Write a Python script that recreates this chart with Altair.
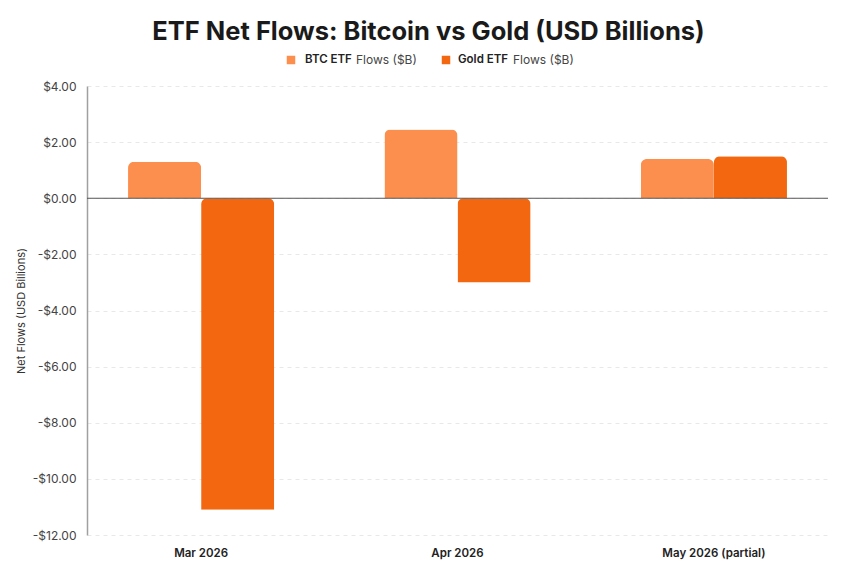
import altair as alt
import pandas as pd

# Monthly ETF net flows, USD billions
months = ["Mar 2026", "Apr 2026", "May 2026 (partial)"]
btc_flows = [1.3, 2.45, 1.4]
gold_flows = [-11.1, -3.0, 1.5]

series = ["BTC ETF Flows ($B)", "Gold ETF Flows ($B)"]
series_bold = ["BTC ETF", "Gold ETF"]
series_rest = ["Flows ($B)", "Flows ($B)"]
colors = ["#FD8F4E", "#F2670F"]

y_ticks = [-12, -10, -8, -6, -4, -2, 0, 2, 4]

rows = []
for m, b, g in zip(months, btc_flows, gold_flows):
    rows.append({"month": m, "series": series[0], "flow": b})
    rows.append({"month": m, "series": series[1], "flow": g})
df = pd.DataFrame(rows)

FONT = "Inter"

x_enc = alt.X(
    "month:N",
    sort=months,
    title=None,
    scale=alt.Scale(paddingInner=0.43, paddingOuter=0.16),
    axis=alt.Axis(
        labelAngle=0, domain=False, ticks=False, grid=False,
        labelFont=FONT, labelFontSize=11.5, labelFontWeight=600,
        labelColor="#222222", labelPadding=12,
    ),
)

y_enc = alt.Y(
    "flow:Q",
    title="Net Flows (USD Billions)",
    scale=alt.Scale(domain=[-12, 4], nice=False, zero=True),
    axis=alt.Axis(
        values=y_ticks,
        labelExpr="datum.value < 0 ? '-$' + format(-datum.value, '.2f') : '$' + format(datum.value, '.2f')",
        grid=True, gridDash=[4, 4], gridColor="#E8E8E8", gridWidth=1,
        domain=True, domainColor="#A0A0A0", domainWidth=1.5,
        ticks=False, labelPadding=11,
        labelFont=FONT, labelFontSize=12, labelColor="#444444",
        titleFont=FONT, titleFontSize=11, titleFontWeight="normal",
        titleColor="#333333", titlePadding=6,
    ),
)

bars = alt.Chart(df).mark_bar(cornerRadiusEnd=6).encode(
    x=x_enc,
    xOffset=alt.XOffset("series:N", sort=series,
                        scale=alt.Scale(paddingInner=0, paddingOuter=0)),
    y=y_enc,
    color=alt.Color("series:N", scale=alt.Scale(domain=series, range=colors), legend=None),
)

zero_line = alt.Chart(pd.DataFrame({"v": [0]})).mark_rule(
    color="#555555", strokeWidth=1
).encode(y="v:Q")

# Legend drawn above the plot: swatch, bold series name, plain suffix
legend_df = pd.DataFrame({
    "series": series,
    "bold": series_bold,
    "rest": series_rest,
})

legend_layers = []
swatch_x = [204, 359]
bold_x = [218, 371]
rest_x = [269, 426]
for i in range(2):
    sub = legend_df.iloc[[i]]
    legend_layers.append(
        alt.Chart(sub).mark_square(size=72, opacity=1, cornerRadius=1).encode(
            x=alt.value(swatch_x[i]), y=alt.value(-26),
            color=alt.Color("series:N", scale=alt.Scale(domain=series, range=colors), legend=None),
        )
    )
    legend_layers.append(
        alt.Chart(sub).mark_text(
            align="left", baseline="middle", font=FONT, fontSize=11.5,
            fontWeight=600, color="#222222",
        ).encode(x=alt.value(bold_x[i]), y=alt.value(-26), text="bold:N")
    )
    legend_layers.append(
        alt.Chart(sub).mark_text(
            align="left", baseline="middle", font=FONT, fontSize=12,
            fontWeight="normal", color="#444444",
        ).encode(x=alt.value(rest_x[i]), y=alt.value(-26), text="rest:N")
    )

chart = alt.layer(bars, zero_line, *legend_layers).properties(
    width=741,
    height=449,
    background="white",
    autosize=alt.AutoSizeParams(type="none"),
    padding={"left": 87, "top": 86, "right": 32, "bottom": 45},
    title=alt.TitleParams(
        "ETF Net Flows: Bitcoin vs Gold (USD Billions)",
        font=FONT, fontSize=25.5, fontWeight="bold", color="#1A1A1A",
        anchor="middle", dx=-29, offset=9,
    ),
).configure_view(stroke=None)

chart.save("out.html", embed_options={"renderer": "svg", "actions": False})
